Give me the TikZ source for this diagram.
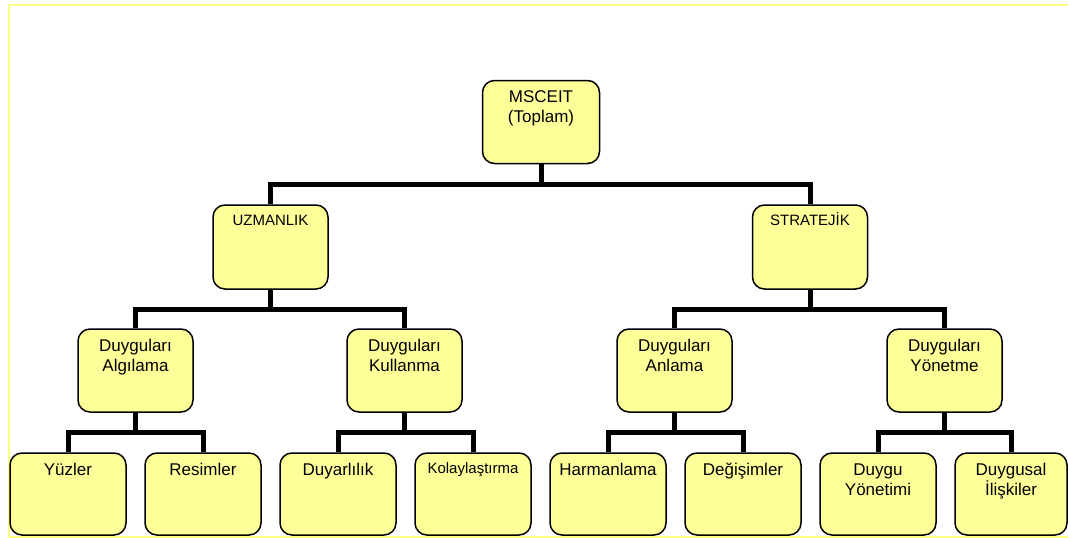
\documentclass[tikz,border=0pt]{standalone}
\usepackage{fontspec}
\setmainfont{Liberation Sans}
\usetikzlibrary{backgrounds}

\definecolor{boxfill}{HTML}{FFFF99}
\definecolor{framecol}{HTML}{FFFF80}

% text block at the top of a box: width, first-line height, content
\newcommand{\btext}[4]{\parbox[t][#2][t]{#1}{\centering\rule{0pt}{#3}#4}}

\tikzset{
  box/.style={draw=black, line width=1.5pt, fill=boxfill, rounded corners=12pt, inner sep=0pt},
  big/.style={font=\fontsize{17pt}{20pt}\selectfont},
  small/.style={font=\fontsize{15pt}{18pt}\selectfont},
  conn/.style={draw=black, line width=5pt, line join=miter}
}

\begin{document}
\begin{tikzpicture}[x=1pt, y=-1pt]
  \useasboundingbox (0,0) rectangle (1068,538);
  \clip (0,0) rectangle (1068,538);

  % root
  \node[box, big] (ms) at (541,122) {\btext{117pt}{83pt}{22pt}{MSCEIT\\(Toplam)}};

  % first level
  \node[box, small] (uz) at (270.5,247) {\btext{115pt}{84pt}{20pt}{UZMANLIK}};
  \node[box, small] (st) at (810,247)   {\btext{115pt}{84pt}{20pt}{STRATEJİK}};

  % second level
  \node[box, big] (alg) at (135.5,370.5) {\btext{115pt}{83pt}{22pt}{Duyguları\\Algılama}};
  \node[box, big] (kul) at (404.5,370.5) {\btext{115pt}{83pt}{22pt}{Duyguları\\Kullanma}};
  \node[box, big] (anl) at (674.5,370.5) {\btext{115pt}{83pt}{22pt}{Duyguları\\Anlama}};
  \node[box, big] (yon) at (944.5,370.5) {\btext{115pt}{83pt}{22pt}{Duyguları\\Yönetme}};

  % leaves
  \node[box, big]   (yuz) at (68,494)   {\btext{116pt}{82pt}{22pt}{Yüzler}};
  \node[box, big]   (res) at (203,494)  {\btext{116pt}{82pt}{22pt}{Resimler}};
  \node[box, big]   (duy) at (338,494)  {\btext{116pt}{82pt}{22pt}{Duyarlılık}};
  \node[box, small] (kol) at (473,494)  {\btext{116pt}{82pt}{20pt}{Kolaylaştırma}};
  \node[box, big]   (har) at (608,494)  {\btext{116pt}{82pt}{22pt}{Harmanlama}};
  \node[box, big]   (deg) at (743,494)  {\btext{116pt}{82pt}{22pt}{Değişimler}};
  \node[box, big]   (dyo) at (878,494)  {\btext{116pt}{82pt}{22pt}{Duygu\\Yönetimi}};
  \node[box, big]   (dil) at (1011,494) {\btext{112pt}{82pt}{22pt}{Duygusal\\İlişkiler}};

  \begin{pgfonlayer}{background}
    % page frame
    \draw[framecol, line width=2pt] (9,5) rectangle (1080,537);
    % tree connectors
    \draw[conn] (ms.south) -- ++(0,20) -| (uz.north);
    \draw[conn] (ms.south) -- ++(0,20) -| (st.north);
    \draw[conn] (uz.south) -- ++(0,20) -| (alg.north);
    \draw[conn] (uz.south) -- ++(0,20) -| (kul.north);
    \draw[conn] (st.south) -- ++(0,20) -| (anl.north);
    \draw[conn] (st.south) -- ++(0,20) -| (yon.north);
    \draw[conn] (alg.south) -- ++(0,20) -| (yuz.north);
    \draw[conn] (alg.south) -- ++(0,20) -| (res.north);
    \draw[conn] (kul.south) -- ++(0,20) -| (duy.north);
    \draw[conn] (kul.south) -- ++(0,20) -| (kol.north);
    \draw[conn] (anl.south) -- ++(0,20) -| (har.north);
    \draw[conn] (anl.south) -- ++(0,20) -| (deg.north);
    \draw[conn] (yon.south) -- ++(0,20) -| (dyo.north);
    \draw[conn] (yon.south) -- ++(0,20) -| (dil.north);
  \end{pgfonlayer}
\end{tikzpicture}
\end{document}
